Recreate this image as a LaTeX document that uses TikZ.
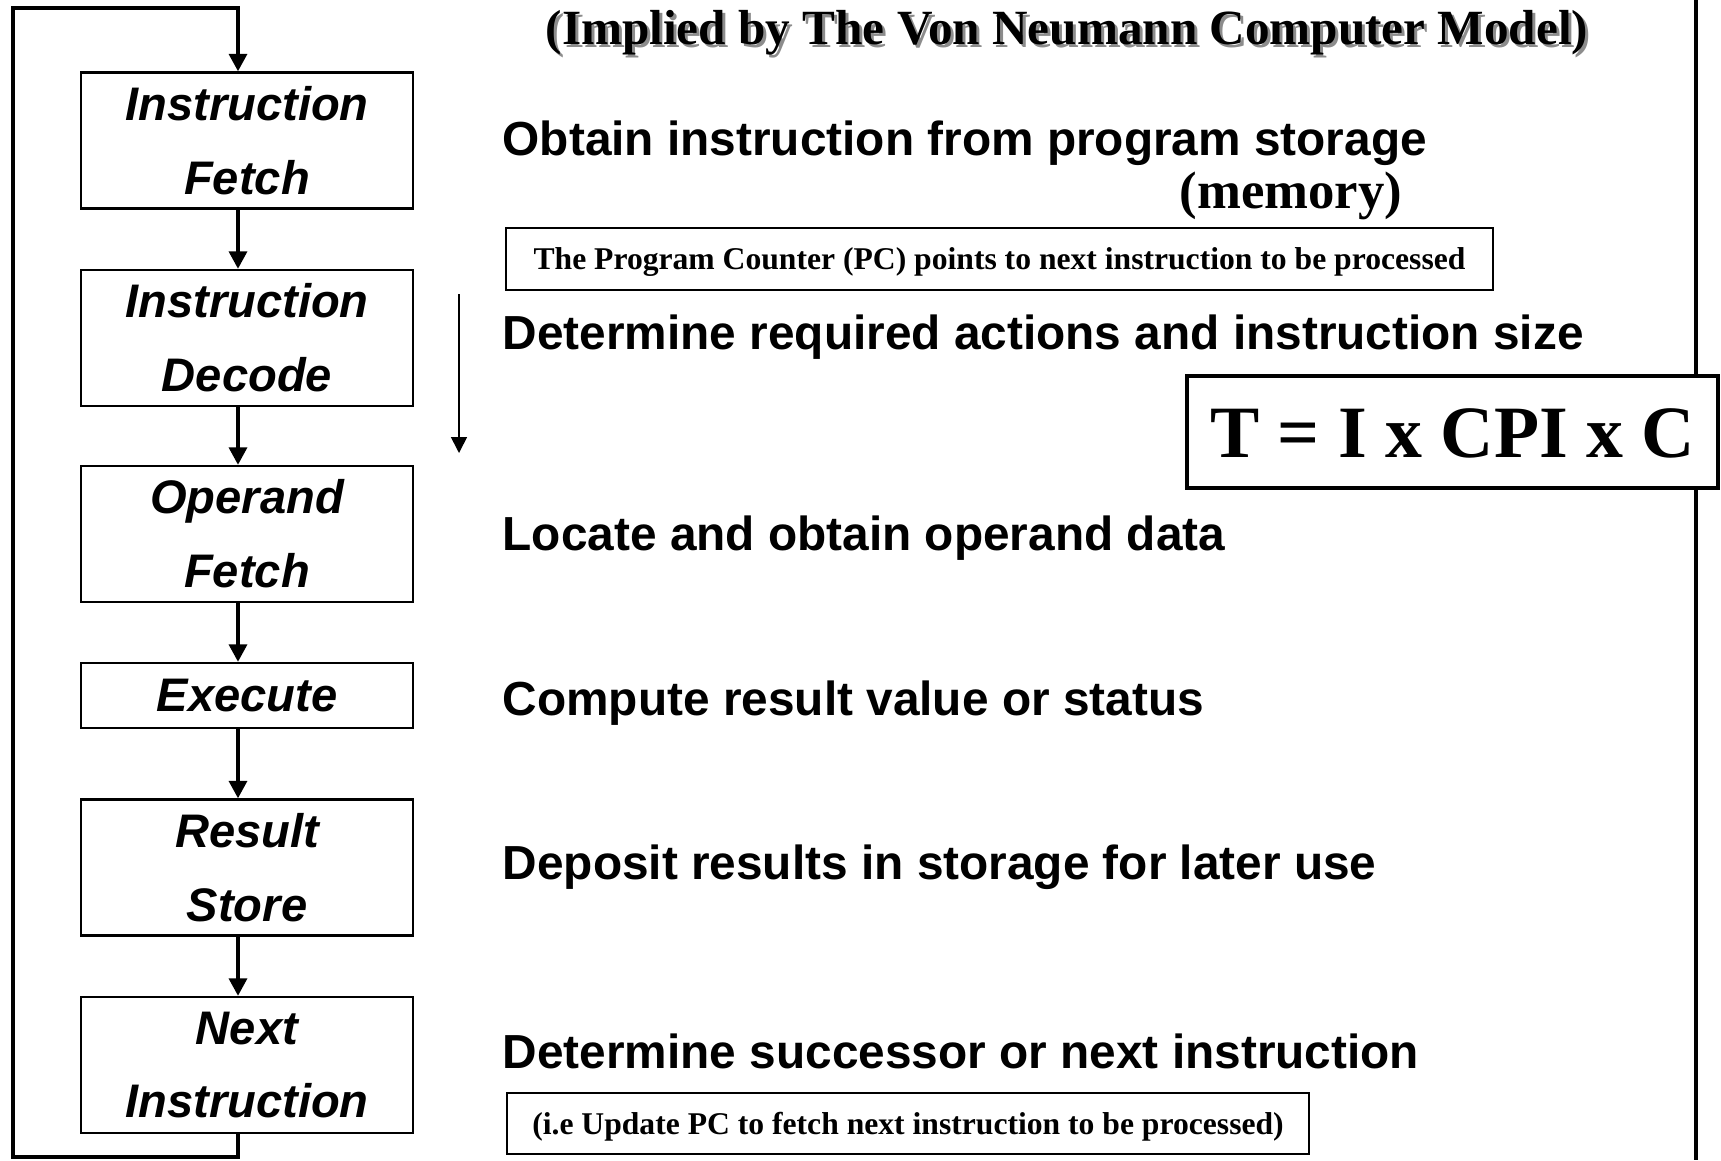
\documentclass[tikz,border=0pt]{standalone}
\usepackage{fontspec}
\setmainfont{Liberation Serif}
\setsansfont{Liberation Sans}
\usepackage{tikz}
\usetikzlibrary{shapes}
\usetikzlibrary{arrows.meta}
\usetikzlibrary{positioning}
\usetikzlibrary{calc}
\tikzstyle{stage}=[
        draw,
        line width=0.6pt,
        minimum width=3.32cm,
        minimum height=1.36cm,
        inner sep=0pt,
        align=center,
        font=\sffamily\bfseries\itshape\fontsize{13.4}{21}\selectfont
]
\tikzstyle{desc}=[anchor=base west,inner sep=0pt,font=\sffamily\bfseries\fontsize{13.6}{16}\selectfont]
\tikzstyle{remark}=[rectangle,draw,line width=0.6pt,inner sep=0pt,text height=0.21cm,text depth=0pt,font=\bfseries\fontsize{9}{11}\selectfont]
\tikzstyle{formula}=[rectangle,draw,line width=0.9pt,fill=white,inner sep=0pt,minimum width=5.31cm,minimum height=1.12cm,text height=0.5cm,text depth=0pt,font=\bfseries\fontsize{21}{25}\selectfont]
\tikzstyle{flow}=[-{Triangle[length=5pt,width=5pt]},line width=1.35pt]
\tikzstyle{thinflow}=[-{Triangle[length=4.5pt,width=4.5pt]},line width=0.45pt]

\begin{document}
\begin{tikzpicture}
\useasboundingbox (0,0) rectangle (17.21,-11.60);
\draw[line width=1.3pt] (16.96,0) -- (16.96,-11.60);
\node[anchor=base,inner sep=0pt,text=black!45,font=\bfseries\fontsize{14}{17}\selectfont] (shadow) at (10.70,-0.47) {(Implied by The Von Neumann Computer Model)};
\node[anchor=base,inner sep=0pt,font=\bfseries\fontsize{14}{17}\selectfont] (title) at (10.67,-0.44) {(Implied by The Von Neumann Computer Model)};
\node[stage] (ifetch) at (2.47,-1.405) {Instruction\\Fetch};
\node[stage] (idecode) at (2.47,-3.38) {Instruction\\Decode};
\node[stage] (ofetch) at (2.47,-5.34) {Operand\\Fetch};
\node[stage,minimum height=0.65cm] (exec) at (2.47,-6.955) {Execute};
\node[stage] (rstore) at (2.47,-8.675) {Result\\Store};
\node[stage] (next) at (2.47,-10.65) {Next\\Instruction};
\node[desc] (obtain) at (5.02,-1.55) {Obtain instruction from program storage};
\node[anchor=base west,inner sep=0pt,font=\bfseries\fontsize{15}{18}\selectfont] (memory) at (11.79,-2.08) {(memory)};
\node[remark,minimum width=9.87cm,minimum height=0.62cm] (pc) at (9.995,-2.59) {The Program Counter (PC) points to next instruction to be processed};
\node[desc] (decode) at (5.02,-3.49) {Determine required actions and instruction size};
\node[formula] (time) at (14.525,-4.32) {T = I x CPI x C};
\node[desc] (locate) at (5.02,-5.50) {Locate and obtain operand data};
\node[desc] (compute) at (5.02,-7.15) {Compute result value or status};
\node[desc] (deposit) at (5.02,-8.79) {Deposit results in storage for later use};
\node[desc] (successor) at (5.02,-10.68) {Determine successor or next instruction};
\node[remark,minimum width=8.02cm,minimum height=0.61cm] (update) at (9.08,-11.235) {(i.e Update PC to fetch next instruction to be processed)};
\coordinate (dtop) at (4.59,-2.94);
\coordinate (dbot) at (4.59,-4.53);
\coordinate (lb) at (0.13,-11.57);
\coordinate (lt) at (0.13,-0.08);
%connecting arrows
\draw[flow] ([xshift=-0.09cm]ifetch.south) -- ([xshift=-0.09cm]idecode.north);
\draw[flow] ([xshift=-0.09cm]idecode.south) -- ([xshift=-0.09cm]ofetch.north);
\draw[flow] ([xshift=-0.09cm]ofetch.south) -- ([xshift=-0.09cm]exec.north);
\draw[flow] ([xshift=-0.09cm]exec.south) -- ([xshift=-0.09cm]rstore.north);
\draw[flow] ([xshift=-0.09cm]rstore.south) -- ([xshift=-0.09cm]next.north);
\draw[flow] ([xshift=-0.09cm]next.south) |- (lb) -- (lt) -| ([xshift=-0.09cm]ifetch.north);
\draw[thinflow] (dtop) -- (dbot);
\end{tikzpicture}
\end{document}
